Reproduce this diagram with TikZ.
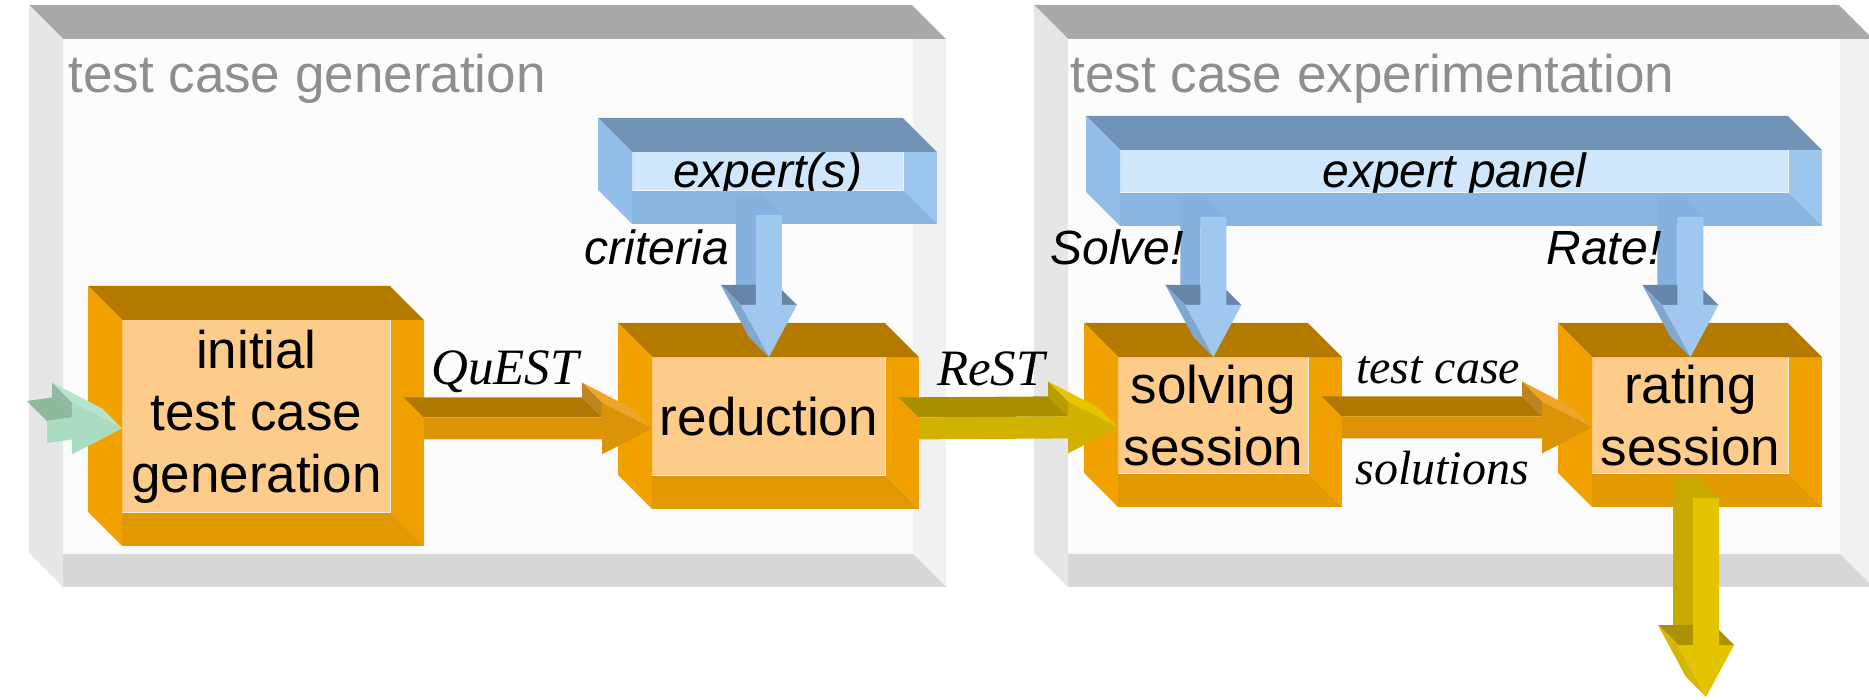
\documentclass[tikz,border=0pt]{standalone}
\usepackage{fontspec}
\setmainfont{Liberation Sans}
\newfontfamily\timesfont{Liberation Serif}
\usetikzlibrary{calc}

% gray panels
\definecolor{paneltop}{HTML}{A9A9A9}
\definecolor{panelleft}{HTML}{E6E6E6}
\definecolor{panelface}{HTML}{FCFCFC}
\definecolor{panelright}{HTML}{F1F1F1}
\definecolor{panelbottom}{HTML}{D7D7D7}
\definecolor{titlegray}{HTML}{8E8E8E}
% orange boxes
\definecolor{ortop}{HTML}{B47A00}
\definecolor{orleft}{HTML}{F2A200}
\definecolor{orface}{HTML}{FDCB8A}
\definecolor{orright}{HTML}{F0A000}
\definecolor{orbottom}{HTML}{E29800}
% blue boxes
\definecolor{bltop}{HTML}{7093B6}
\definecolor{blleft}{HTML}{92BDE8}
\definecolor{blface}{HTML}{D0E6FB}
\definecolor{blright}{HTML}{9CC6EE}
\definecolor{blbottom}{HTML}{8AB5E0}
% arrows
\definecolor{flowtop}{HTML}{B07800}
\definecolor{flowfront}{HTML}{DC9406}
\definecolor{flowfin}{HTML}{EDA52A}
\definecolor{resttop}{HTML}{A88F00}
\definecolor{restfront}{HTML}{D2B200}
\definecolor{restfin}{HTML}{E6C400}
\definecolor{askside}{HTML}{86B1DE}
\definecolor{askfront}{HTML}{A0C8EF}
\definecolor{askfin}{HTML}{7FA7D2}
\definecolor{intop}{HTML}{8BB99A}
\definecolor{infront}{HTML}{A9DCC0}
\definecolor{infin}{HTML}{B6E5CF}
\definecolor{outside}{HTML}{C9A900}
\definecolor{outfront}{HTML}{E4C400}
\definecolor{outfin}{HTML}{D6B600}

\tikzset{
    panel/.style = {anchor=north west, fill=panelface, inner sep=0pt},
    title/.style = {text=titlegray, inner sep=0pt, font=\fontsize{26.5}{31}\selectfont},
    box/.style = {anchor=north west, fill=orface, inner sep=0pt, align=center,
                  font=\fontsize{26.5}{31}\selectfont},
    crowd/.style = {anchor=north west, fill=blface, inner sep=0pt,
                    text height=17.5pt, text depth=1.5pt,
                    font=\fontsize{24}{28}\selectfont\itshape},
    lab/.style = {inner sep=0pt, font=\fontsize{24}{28}\selectfont\itshape},
    serlab/.style = {inner sep=0pt, font=\timesfont\itshape\fontsize{25.5}{30}\selectfont},
    sersmall/.style = {inner sep=0pt, font=\timesfont\itshape\fontsize{24}{28}\selectfont}
}

% sides of a 3d box around its front face node:
% #1 node, #2 top, #3 left, #4 right bevel, #5 bottom bevel
\newcommand{\boxsides}[5]{
    \fill[#4] (#1.north east) -- ($(#1.north east)+(33,0)$) -- ($(#1.south east)+(33,33)$) -- (#1.south east) -- cycle;
    \fill[#5] (#1.south west) -- (#1.south east) -- ($(#1.south east)+(33,33)$) -- ($(#1.south west)+(0,33)$) -- cycle;
    \fill[#2] (#1.north west) -- ++(-34,-34) -- ($(#1.north east)+(-1,-34)$) -- ($(#1.north east)+(33,0)$) -- cycle;
    \fill[#3] (#1.north west) -- ++(-34,-34) -- ($(#1.south west)+(-34,-1)$) -- ($(#1.south west)+(0,33)$) -- cycle;
}

% block arrow to the right: #1 from, #2 to, #3 top, #4 front, #5 fin
\newcommand{\flowright}[5]{
    \coordinate (s) at ($(#1)+(33,12)$);
    \coordinate (t) at ($(#2)+(0,12)$);
    \fill[#3] ($(s)+(0,-11)$) -- ($(t)+(-50,-11)$) -- ($(t)+(-70,-31)$) -- ($(s)+(-20,-31)$) -- cycle;
    \fill[#5!80!black] ($(t)+(-50,-11)$) -- ($(t)+(-50,-26)$) -- ($(t)+(-70,-46)$) -- ($(t)+(-70,-31)$) -- cycle;
    \fill[#5] ($(t)+(-50,-26)$) -- (t) -- ($(t)+(-20,-20)$) -- ($(t)+(-70,-46)$) -- cycle;
    \fill[#4] ($(s)+(0,-11)$) -- ($(t)+(-50,-11)$) -- ($(t)+(-50,-26)$) -- (t)
        -- ($(t)+(-50,26)$) -- ($(t)+(-50,11)$) -- ($(s)+(0,11)$) -- cycle;
}

% block arrow downwards: #1 from, #2 to, #3 side, #4 front, #5 fin
\newcommand{\flowdown}[5]{
    \coordinate (s) at ($(#2 |- #1)+(0,24)$);
    \coordinate (t) at (#2);
    \fill[#3] ($(s)+(-13,0)$) -- ($(t)+(-13,-52)$) -- ($(t)+(-33,-72)$) -- ($(s)+(-33,-20)$) -- cycle;
    \fill[#3] ($(s)+(-13,0)$) -- ($(s)+(13,0)$) -- ($(s)+(-7,-20)$) -- ($(s)+(-33,-20)$) -- cycle;
    \fill[#5!80!black] ($(t)+(-28,-52)$) -- ($(t)+(28,-52)$) -- ($(t)+(8,-72)$) -- ($(t)+(-48,-72)$) -- cycle;
    \fill[#5] ($(t)+(-28,-52)$) -- (t) -- ($(t)+(-20,-20)$) -- ($(t)+(-48,-72)$) -- cycle;
    \fill[#4] ($(s)+(-13,0)$) -- ($(s)+(13,0)$) -- ($(t)+(13,-52)$) -- ($(t)+(28,-52)$) -- (t)
        -- ($(t)+(-28,-52)$) -- ($(t)+(-13,-52)$) -- cycle;
}

\begin{document}
\begin{tikzpicture}[x=0.5pt, y=-0.5pt]
    \useasboundingbox (0,0) rectangle (1869,700);
    \clip (0,0) rectangle (1869,700);

    % the two stages
    \node[panel, minimum width=424.5pt, minimum height=257pt] (gen) at (63,39) {};
    \node[panel, minimum width=385.5pt, minimum height=257pt] (exper) at (1068,39) {};
    \boxsides{gen}{paneltop}{panelleft}{panelright}{panelbottom}
    \boxsides{exper}{paneltop}{panelleft}{panelright}{panelbottom}
    \node[title, anchor=base west] (gentitle) at (68,93) {test case generation};
    \node[title, anchor=base west] (expertitle) at (1070,93) {test case experimentation};

    % experts
    \node[crowd, minimum width=135.5pt, minimum height=19pt] (experts) at (632,152) {expert(s)};
    \node[crowd, minimum width=334pt, minimum height=21pt] (expanel) at (1120,150) {expert panel};
    \boxsides{experts}{bltop}{blleft}{blright}{blbottom}
    \boxsides{expanel}{bltop}{blleft}{blright}{blbottom}

    % steps
    \node[box, minimum width=134pt, minimum height=96pt] (init) at (122,320) {initial\\test case\\generation};
    \node[box, minimum width=116.5pt, minimum height=59pt] (red) at (652,357) {reduction};
    \node[box, minimum width=95pt, minimum height=58pt] (solve) at (1118,357) {solving\\session};
    \node[box, minimum width=98pt, minimum height=58pt] (rate) at (1592,357) {rating\\session};
    \boxsides{init}{ortop}{orleft}{orright}{orbottom}
    \boxsides{red}{ortop}{orleft}{orright}{orbottom}
    \boxsides{solve}{ortop}{orleft}{orright}{orbottom}
    \boxsides{rate}{ortop}{orleft}{orright}{orbottom}

    % flows
    \coordinate (in) at (14,420);
    \coordinate (out) at (1706,697);
    \flowright{in}{init.west}{intop}{infront}{infin}
    \flowright{init.east}{red.west}{flowtop}{flowfront}{flowfin}
    \flowright{red.east}{solve.west}{resttop}{restfront}{restfin}
    \flowright{solve.east}{rate.west}{flowtop}{flowfront}{flowfin}
    \flowdown{experts.south}{red.north}{askside}{askfront}{askfin}
    \flowdown{expanel.south}{solve.north}{askside}{askfront}{askfin}
    \flowdown{expanel.south}{rate.north}{askside}{askfront}{askfin}
    \flowdown{rate.south}{out}{outside}{outfront}{outfin}

    % labels
    \node[lab, anchor=base] (crit) at (657,265) {criteria};
    \node[lab, anchor=base] (solvelab) at (1117,265) {Solve!};
    \node[lab, anchor=base] (ratelab) at (1604,265) {Rate!};
    \node[serlab, anchor=base] (quest) at (505,385) {QuEST};
    \node[serlab, anchor=base] (rest) at (991,386) {ReST};
    \node[sersmall, anchor=base] (tcase) at (1438,383) {test case};
    \node[sersmall, anchor=base] (sols) at (1442,484) {solutions};
\end{tikzpicture}
\end{document}
